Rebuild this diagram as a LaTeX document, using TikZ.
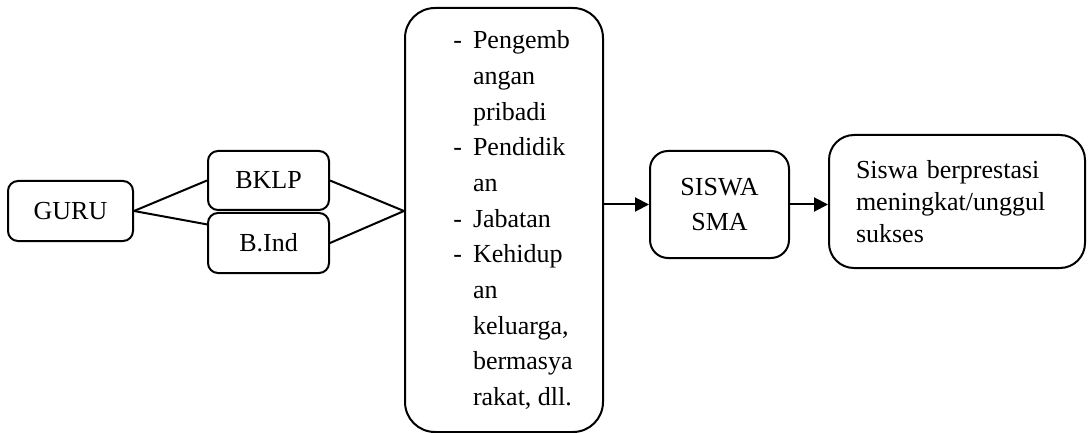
\documentclass[tikz,border=0pt]{standalone}
\usepackage{fontspec}
\setmainfont{Liberation Serif}
\usetikzlibrary{arrows.meta,calc}
\begin{document}
\begin{tikzpicture}[x=1pt,y=-1pt,
  box/.style={draw,line width=2pt,inner sep=0pt,font=\fontsize{26}{35.7}\selectfont},
  link/.style={line width=2pt},
  arr/.style={line width=2pt,-{Triangle[length=14pt,width=14pt]}}]
\useasboundingbox (0,0) rectangle (1088,433);
\node[box,rounded corners=10pt,minimum width=125pt,minimum height=60pt] (guru) at (70.5,211) {GURU\hspace{10pt}};
\node[box,rounded corners=10pt,minimum width=121pt,minimum height=59pt] (bklp) at (268.5,180.5) {BKLP};
\node[box,rounded corners=10pt,minimum width=121pt,minimum height=60pt] (bind) at (268.5,243) {B.Ind};
\node[box,rounded corners=30pt,minimum width=198pt,minimum height=424pt] (dev) at (504,220)
  {\begin{tabular}{@{\hspace{18pt}}r@{\hspace{11pt}}l@{}}
   - & Pengemb\\
     & angan\\
     & pribadi\\
   - & Pendidik\\
     & an\\
   - & Jabatan\\
   - & Kehidup\\
     & an\\
     & keluarga,\\
     & bermasya\\
     & rakat, dll.
   \end{tabular}};
\node[box,rounded corners=18pt,minimum width=139pt,minimum height=107pt,align=center,font=\fontsize{26}{35}\selectfont] (sis) at (719.5,204.5) {SISWA\\SMA};
\node[box,rounded corners=25pt,minimum width=256pt,minimum height=133pt,inner xsep=27pt,text width=202pt,align=left,font=\fontsize{26}{32}\selectfont] (res) at (957,201.5)
  {Siswa berprestasi\\meningkat/unggul\\sukses};
\draw[link] (guru.east) -- (bklp.west);
\draw[link] (guru.east) -- ($(bind.north west)!0.2!(bind.south west)$);
\draw[link] (bklp.east) -- (dev.west |- guru.east);
\draw[link] (bind.east) -- (dev.west |- guru.east);
\draw[arr] (dev.east |- sis.west) -- (sis.west);
\draw[arr] (sis.east) -- (res.west |- sis.east);
\end{tikzpicture}
\end{document}
